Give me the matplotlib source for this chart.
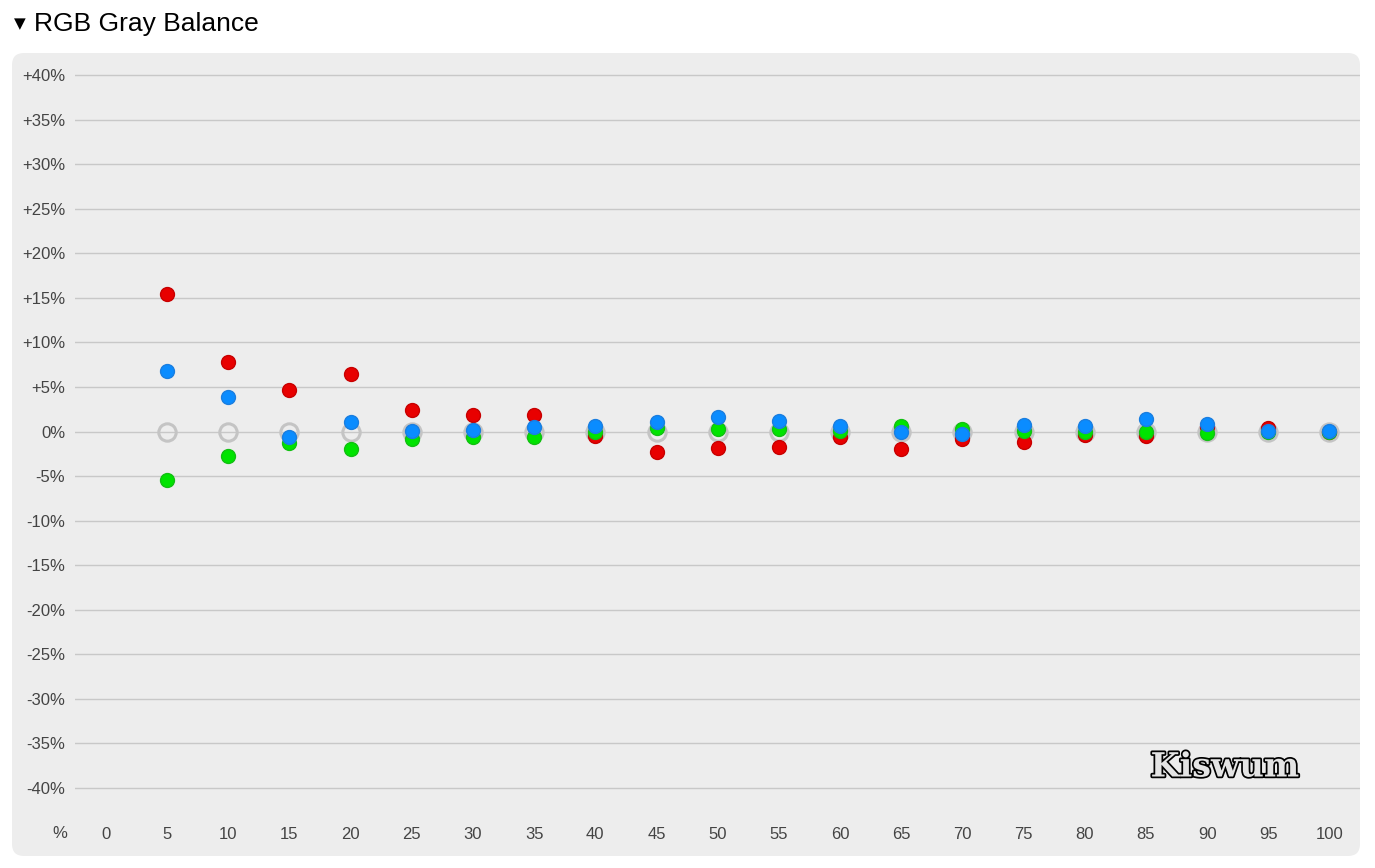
import matplotlib
matplotlib.use('Agg')
import matplotlib.pyplot as plt
import matplotlib.patheffects as pe
from matplotlib.patches import FancyBboxPatch

plt.rcParams['font.family'] = ['Liberation Sans', 'DejaVu Sans']

# gray level (%) and deviation of each channel (%)
levels = [5, 10, 15, 20, 25, 30, 35, 40, 45, 50, 55, 60, 65, 70, 75, 80, 85, 90, 95, 100]
red = [15.45, 7.8, 4.7, 6.4, 2.45, 1.8, 1.8, -0.45, -2.25, -1.8, -1.7, -0.65, -1.95, -0.8,
       -1.2, -0.35, -0.55, 0.45, 0.35, 0.0]
green = [-5.4, -2.7, -1.3, -2.0, -0.8, -0.65, -0.65, -0.1, 0.4, 0.3, 0.3, 0.05, 0.65, 0.3,
         0.1, -0.1, -0.1, -0.2, -0.1, 0.0]
blue = [6.75, 3.85, -0.65, 1.1, 0.1, 0.2, 0.45, 0.65, 1.1, 1.6, 1.2, 0.65, -0.05, -0.25,
        0.75, 0.6, 1.35, 0.85, 0.1, 0.05]
target = [0.0] * len(levels)

x_ticks = list(range(0, 101, 5))
y_ticks = list(range(-40, 41, 5))
y_labels = ['+%d%%' % v if v > 0 else '%d%%' % v for v in y_ticks]

W, H = 1375, 868
fig = plt.figure(figsize=(W / 100, H / 100), dpi=100)
fig.patch.set_facecolor('white')

# rounded gray panel
panel = FancyBboxPatch((12, H - 856), 1348, 803, boxstyle='round,pad=0,rounding_size=12',
                       transform=None, facecolor='#ededed', edgecolor='none', zorder=-5)
fig.patches.append(panel)

# header
fig.text(14 / W, 1 - 24 / H, '\u25bc', fontsize=11, color='black', va='center', ha='left',
         family=['DejaVu Sans'])
fig.text(34 / W, 1 - 24 / H, 'RGB Gray Balance', fontsize=19, color='black', va='center', ha='left')

ax = fig.add_axes([75 / W, 1 - 792.5 / H, (1360 - 75) / W, (792.5 - 70.5) / H])
ax.set_facecolor('none')
ax.set_xlim(-2.53, 102.5)
ax.set_ylim(-40.5, 40.5)

for s in ax.spines.values():
    s.set_visible(False)
ax.set_yticks(y_ticks)
ax.set_yticklabels(y_labels)
ax.set_xticks(x_ticks)
ax.set_xticklabels([str(v) for v in x_ticks])
ax.tick_params(axis='both', length=0, labelsize=12, labelcolor='#444444')
ax.tick_params(axis='y', pad=7)
ax.tick_params(axis='x', pad=25)
ax.grid(axis='y', color='#c8c8c8', linewidth=1)
ax.set_axisbelow(True)

fig.text(60 / W, 1 - 833 / H, '%', fontsize=12, color='#444444', ha='center', va='center')

ax.plot(levels, target, 'o', ms=12.5, mfc='none', mec='#c4c4c4', mew=2.2, zorder=2)
ax.plot(levels, red, 'o', ms=10, mfc='#e80000', mec='#c80000', mew=1, zorder=3)
ax.plot(levels, green, 'o', ms=10, mfc='#00e400', mec='#12c012', mew=1, zorder=4)
ax.plot(levels, blue, 'o', ms=10, mfc='#0a8cff', mec='#1a7ee0', mew=1, zorder=5)

# watermark
fig.text(1225 / W, 1 - 767 / H, 'Kiswum', fontsize=24, fontweight='bold', family=['DejaVu Serif'],
         color='#e4e4e4', ha='center', va='center',
         path_effects=[pe.Stroke(linewidth=2.5, foreground='black'), pe.Normal()])

fig.savefig('out.png', dpi=100, facecolor='white')
